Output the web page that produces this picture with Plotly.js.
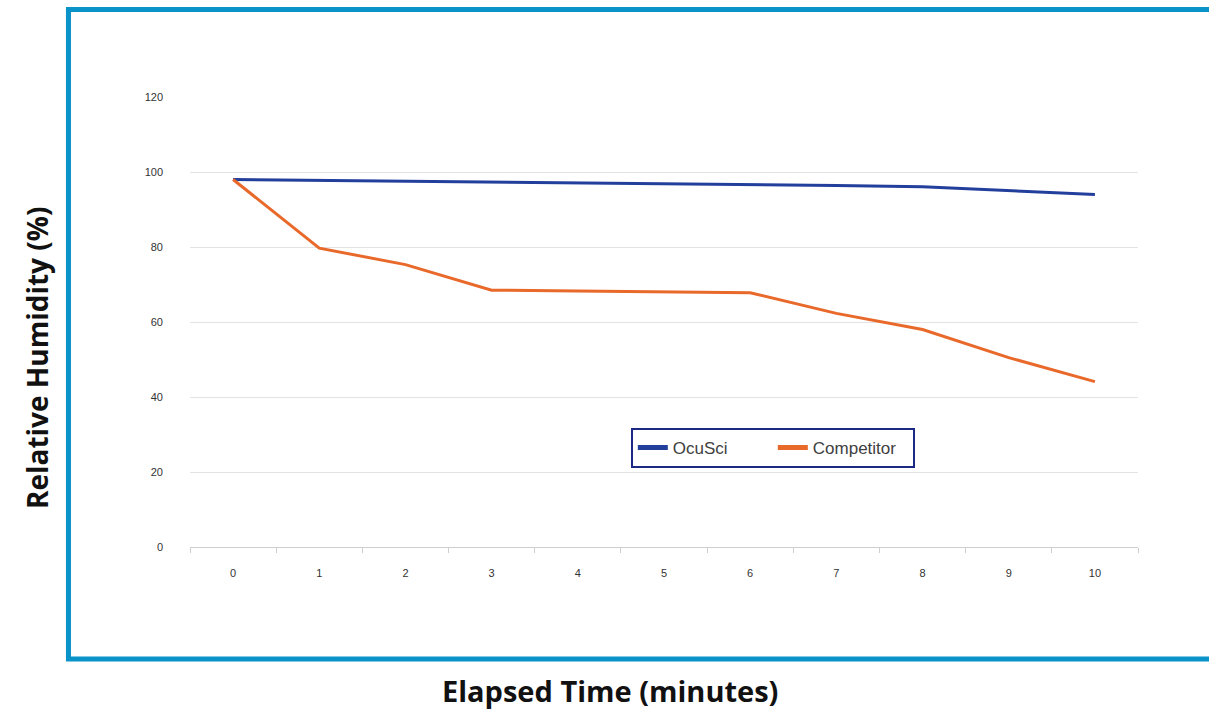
<!DOCTYPE html>
<html>
<head>
<meta charset="utf-8">
<script src="https://cdn.plot.ly/plotly-3.0.1.min.js"></script>
<style>
html,body{margin:0;padding:0;background:#fff;}
#chart{width:1209px;height:709px;}
</style>
</head>
<body>
<div id="chart"></div>
<script>
const minutes = ['0','1','2','3','4','5','6','7','8','9','10'];
const ocuSci = [98, 97.8, 97.5, 97.3, 97.1, 96.8, 96.6, 96.4, 96.1, 95.1, 94.0];
const competitor = [98, 79.7, 75.3, 68.5, 68.3, 68.1, 67.8, 62.3, 58.0, 50.5, 44.1];
const yTicks = [0, 20, 40, 60, 80, 100, 120];
const seriesNames = ['OcuSci', 'Competitor'];
const xTitle = 'Elapsed Time (minutes)';
const yTitle = 'Relative Humidity (%)';

const traces = [
  {x: minutes, y: ocuSci, name: seriesNames[0], type: 'scatter', mode: 'lines',
   line: {color: '#233f9c', width: 3}},
  {x: minutes, y: competitor, name: seriesNames[1], type: 'scatter', mode: 'lines',
   line: {color: '#e8692a', width: 3}}
];

const layout = {
  width: 1209, height: 709,
  margin: {l: 190, r: 71, t: 97, b: 162},
  paper_bgcolor: '#ffffff', plot_bgcolor: '#ffffff',
  showlegend: true,
  legend: {
    x: 0.465, y: 0.2644, xanchor: 'left', yanchor: 'top',
    orientation: 'h', bgcolor: '#ffffff',
    bordercolor: '#1c2a86', borderwidth: 2,
    font: {family: 'Liberation Sans Narrow, Liberation Sans, Arial, sans-serif', size: 17, color: '#404040'},
    itemwidth: 30,
    entrywidth: 95, entrywidthmode: 'pixels',
    itemsizing: 'constant'
  },
  xaxis: {
    type: 'category', range: [-0.5, 10.5],
    showgrid: false, zeroline: false,
    showline: true, linecolor: '#cfcfcf', linewidth: 1,
    ticks: 'outside', tickson: 'boundaries', ticklen: 5, tickcolor: '#cfcfcf',
    ticklabelstandoff: 16,
    tickfont: {family: 'Liberation Sans, Arial, sans-serif', size: 11, color: '#333333'},
    fixedrange: true
  },
  yaxis: {
    range: [0, 120], tickvals: yTicks, ticktext: yTicks.map(String),
    showgrid: true, gridcolor: '#e3e3e3', gridwidth: 1,
    zeroline: false, showline: false, ticks: '',
    ticklabelstandoff: 26,
    tickfont: {family: 'Liberation Sans, Arial, sans-serif', size: 11, color: '#333333'},
    fixedrange: true
  },
  annotations: [
    {text: '<b>' + yTitle + '</b>', xref: 'paper', yref: 'paper',
     x: -0.1614, y: 0.422, xanchor: 'center', yanchor: 'middle', textangle: -90,
     showarrow: false, font: {family: 'Open Sans, sans-serif', size: 28, color: '#111111'}},
    {text: '<b>' + xTitle + '</b>', xref: 'paper', yref: 'paper',
     x: 0.443, y: -0.3178, xanchor: 'center', yanchor: 'middle',
     showarrow: false, font: {family: 'Open Sans, sans-serif', size: 29, color: '#111111'}}
  ],
  shapes: [
    {type: 'rect', xref: 'paper', yref: 'paper', layer: 'above',
     x0: -0.1282, x1: 1.09, y0: -0.2489, y1: 1.1944,
     line: {color: '#0a93c9', width: 5}, fillcolor: 'rgba(0,0,0,0)'}
  ]
};

Plotly.newPlot('chart', traces, layout, {displayModeBar: false, staticPlot: true});
</script>
</body>
</html>
